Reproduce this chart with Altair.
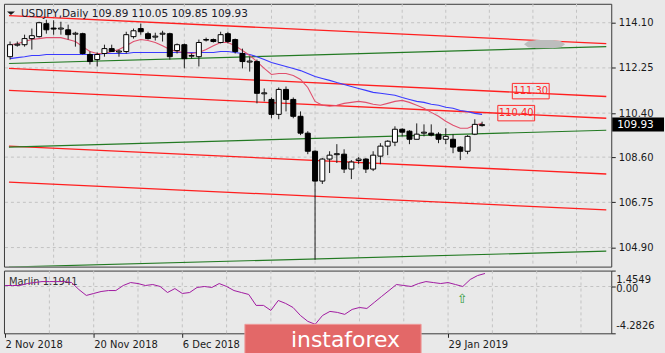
import altair as alt
import pandas as pd

FONT = "DejaVu Sans"

# ---------------- data ----------------
bar_idx = list(range(66))
opens = [112.71, 113.18, 113.20, 113.45, 113.53, 114.06, 113.88, 113.84, 113.81, 113.63,
         113.65, 112.80, 112.59, 112.84, 113.04, 112.90, 112.92, 113.53, 113.86, 113.65,
         113.51, 113.63, 113.65, 112.96, 113.20, 112.73, 112.71, 113.41, 113.41, 113.29,
         113.65, 113.41, 112.84, 112.49, 112.51, 111.19, 110.96, 110.35, 111.37, 110.96,
         110.27, 109.58, 108.84, 107.62, 108.52, 108.70, 108.72, 108.11, 108.46, 108.52,
         108.11, 108.64, 109.05, 109.21, 109.74, 109.66, 109.33, 109.58, 109.58, 109.54,
         109.33, 109.33, 109.01, 108.84, 109.54, 109.89]
highs = [113.33, 113.33, 113.61, 113.86, 114.14, 114.22, 114.20, 114.14, 114.02, 113.73,
         113.69, 112.92, 112.88, 113.20, 113.20, 113.00, 113.73, 113.86, 114.06, 113.73,
         113.69, 113.77, 113.69, 113.25, 113.25, 112.84, 113.41, 113.49, 113.45, 113.73,
         113.73, 113.45, 113.04, 112.71, 112.59, 111.41, 111.04, 111.45, 111.49, 111.04,
         110.47, 109.66, 108.88, 108.56, 108.84, 109.13, 108.92, 108.48, 108.60, 108.56,
         108.84, 109.17, 109.29, 109.86, 109.78, 109.70, 109.98, 109.94, 109.94, 109.62,
         109.78, 109.54, 109.05, 109.50, 110.15, 110.05]
lows = [112.59, 113.12, 113.12, 113.00, 113.49, 113.65, 113.61, 113.61, 113.41, 113.12,
        112.80, 112.39, 112.31, 112.71, 112.92, 112.71, 112.84, 113.45, 113.61, 113.41,
        113.37, 113.33, 112.59, 112.84, 112.23, 112.63, 112.31, 113.33, 113.29, 113.25,
        113.25, 112.84, 112.23, 112.10, 110.80, 110.88, 110.19, 110.15, 110.47, 110.19,
        109.50, 108.72, 104.40, 107.50, 107.95, 108.36, 107.95, 107.70, 108.31, 107.95,
        108.03, 108.31, 108.68, 109.05, 109.45, 109.13, 109.33, 109.45, 109.45, 109.17,
        109.13, 108.76, 108.48, 108.72, 109.50, 109.85]
closes = [113.20, 113.22, 113.45, 113.57, 114.10, 113.81, 113.84, 113.88, 113.61, 113.67,
          112.84, 112.51, 112.80, 113.04, 112.92, 112.94, 113.61, 113.77, 113.73, 113.45,
          113.55, 113.67, 112.71, 113.20, 112.63, 112.76, 113.29, 113.39, 113.33, 113.61,
          113.33, 112.92, 112.51, 112.53, 111.21, 111.23, 110.35, 111.37, 110.96, 110.27,
          109.58, 108.84, 107.62, 108.52, 108.68, 108.74, 108.11, 108.40, 108.52, 108.11,
          108.68, 109.05, 109.25, 109.74, 109.62, 109.33, 109.54, 109.62, 109.50, 109.33,
          109.45, 109.01, 108.84, 109.45, 109.94, 109.93]
fast_ma = [113.20, 113.24, 113.33, 113.41, 113.45, 113.49, 113.49, 113.49, 113.41, 113.33,
           113.12, 112.92, 112.84, 112.84, 112.92, 113.00, 113.16, 113.33, 113.41, 113.37,
           113.29, 113.16, 113.00, 112.92, 112.88, 112.84, 112.88, 113.00, 113.16, 113.29,
           113.29, 113.16, 112.96, 112.76, 112.51, 112.23, 111.98, 112.02, 112.02, 111.94,
           111.78, 111.45, 110.88, 110.72, 110.68, 110.72, 110.80, 110.84, 110.88, 110.84,
           110.76, 110.72, 110.80, 110.88, 110.92, 110.84, 110.72, 110.60, 110.43, 110.27,
           110.07, 109.90, 109.78, 109.78, 109.90, 109.98]
slow_ma = [112.63, 112.67, 112.71, 112.76, 112.76, 112.80, 112.80, 112.80, 112.80, 112.80,
           112.80, 112.80, 112.80, 112.84, 112.84, 112.84, 112.84, 112.88, 112.88, 112.88,
           112.88, 112.88, 112.88, 112.88, 112.88, 112.88, 112.88, 112.88, 112.88, 112.92,
           112.92, 112.88, 112.84, 112.80, 112.71, 112.59, 112.47, 112.39, 112.31, 112.23,
           112.14, 112.02, 111.90, 111.82, 111.74, 111.65, 111.57, 111.49, 111.41, 111.33,
           111.25, 111.21, 111.17, 111.13, 111.04, 110.96, 110.88, 110.84, 110.76, 110.72,
           110.64, 110.60, 110.51, 110.47, 110.39, 110.35]
marlin = [0.09, 0.09, 0.09, 0.27, 0.36, 0.45, 0.45, 0.45, 0.45, 0.36,
          -0.28, -0.82, -0.64, -0.46, -0.37, -0.37, 0.09, 0.36, 0.27, 0.09,
          0.18, 0.00, -0.55, -0.19, -0.64, -0.55, -0.09, 0.00, -0.09, 0.27,
          0.00, -0.37, -0.55, -0.73, -1.73, -1.73, -2.19, -1.28, -1.55, -1.92,
          -2.65, -3.19, -3.46, -2.65, -2.28, -2.37, -2.55, -2.10, -1.92, -2.01,
          -1.46, -0.91, -0.37, 0.18, 0.09, 0.00, 0.27, 0.45, 0.36, 0.27,
          0.36, 0.18, 0.00, 0.64, 1.00, 1.19]

# channel lines: price at left edge and right edge of the chart
line_x = [-0.15, 82.1]
red_names = ["R1", "R2", "R3", "R4", "R5"]
red_start = [114.39, 112.23, 111.33, 109.05, 107.58]
red_end = [113.24, 111.08, 110.19, 107.91, 106.44]
green_names = ["G1", "G2", "G3"]
green_start = [112.43, 109.01, 104.10]
green_end = [113.12, 109.70, 104.75]

price_ticks = [114.10, 112.25, 110.40, 108.60, 106.75, 104.90]
grid_idx = [6, 12, 18, 24, 30, 36, 42, 48, 54, 60, 66, 72, 78]
# date labels visible in the reference (the ones under the logo are hidden there)
date_idx = [0, 12, 24, 60]
date_txt = ["2 Nov 2018", "20 Nov 2018", "6 Dec 2018", "29 Jan 2019"]
sub_ticks = [1.4549, 0.0, -4.2826]
sub_tick_txt = ["1.4549", "0.00", "-4.2826"]

title_txt = "USDJPY,Daily  109.89 110.05 109.85 109.93"
marlin_txt = "Marlin 1.1941"
level_idx = [71.7, 69.7]
level_price = [111.30, 110.40]
level_txt = ["111.30", "110.40"]
last_price = 109.93
smudge_idx = [73.6]
smudge_price = [113.22]
arrow_idx = [61.9]
arrow_val = [-1.19]

# ---------------- tables ----------------
candles = pd.DataFrame({"i": bar_idx, "o": opens, "h": highs, "l": lows, "c": closes})
candles["dir"] = ["up" if c >= o else "down" for o, c in zip(opens, closes)]
ma = pd.DataFrame({"i": bar_idx, "fast": fast_ma, "slow": slow_ma, "marlin": marlin})

red_rows = []
for n, s, e in zip(red_names, red_start, red_end):
    red_rows += [{"name": n, "x": line_x[0], "p": s}, {"name": n, "x": line_x[1], "p": e}]
green_rows = []
for n, s, e in zip(green_names, green_start, green_end):
    green_rows += [{"name": n, "x": line_x[0], "p": s}, {"name": n, "x": line_x[1], "p": e}]
red_df = pd.DataFrame(red_rows)
green_df = pd.DataFrame(green_rows)

xs = alt.Scale(domain=[-0.15, 82.1], nice=False, zero=False)
ys = alt.Scale(domain=[104.12, 114.874], nice=False, zero=False)
ss = alt.Scale(domain=[-4.2826, 1.4549], nice=False, zero=False)

W = 610
H_MAIN = 264
H_SUB = 63
GRID = "#c3c3c3"
LBL = "#1a1a1a"

main_y_axis = alt.Axis(
    orient="right", values=price_ticks, format=".2f", title=None, grid=False,
    tickSize=4, tickColor="#222222", domain=False, labelFont=FONT, labelFontSize=10,
    labelColor=LBL, labelPadding=3, labelOverlap=False)
label_expr = " : ".join(f"datum.value == {i} ? '{t}'" for i, t in zip(date_idx, date_txt)) + " : ''"
sub_x_axis = alt.Axis(
    orient="bottom", values=date_idx, labelExpr=label_expr, labelAlign="left", labelFlush=False,
    labelOverlap=False, tickSize=4, tickColor="#222222", labelPadding=2, grid=False, domain=False,
    title=None, labelFont=FONT, labelFontSize=10, labelColor=LBL)
sub_y_axis = alt.Axis(orient="right", values=sub_ticks, labels=False, title=None,
                      grid=False, tickSize=4, tickColor="#222222", domain=False)

X = lambda f: alt.X(f, scale=xs, axis=None)
Y = lambda f: alt.Y(f, scale=ys, axis=main_y_axis)
XS = lambda f: alt.X(f, scale=xs, axis=sub_x_axis)
YS = lambda f: alt.Y(f, scale=ss, axis=sub_y_axis)

# ---------------- main panel ----------------
hgrid = alt.Chart(pd.DataFrame({"p": price_ticks})).mark_rule(
    color=GRID, strokeDash=[3, 3], strokeWidth=1).encode(y=Y("p:Q"))

vgrid = alt.Chart(pd.DataFrame({"g": grid_idx})).mark_rule(
    color=GRID, strokeDash=[3, 3], strokeWidth=1).encode(x=X("g:Q"))

red_lines = alt.Chart(red_df).mark_line(clip=True, color="#ff1f1f", strokeWidth=1.3).encode(
    x=X("x:Q"), y=Y("p:Q"), detail="name:N")
green_lines = alt.Chart(green_df).mark_line(clip=True, color="#237a23", strokeWidth=1.2).encode(
    x=X("x:Q"), y=Y("p:Q"), detail="name:N")

slow_line = alt.Chart(ma).mark_line(color="#3a3aff", strokeWidth=1.1).encode(x=X("i:Q"), y=Y("slow:Q"))
fast_line = alt.Chart(ma).mark_line(color="#e0506e", strokeWidth=1.1).encode(x=X("i:Q"), y=Y("fast:Q"))

wicks = alt.Chart(candles).mark_rule(color="#1e1e1e", strokeWidth=1).encode(
    x=X("i:Q"), y=Y("l:Q"), y2="h:Q")
bodies = alt.Chart(candles).mark_bar(width=5, stroke="#000000", strokeWidth=1).encode(
    x=X("i:Q"), y=Y("o:Q"), y2="c:Q",
    fill=alt.Fill("dir:N", scale=alt.Scale(domain=["up", "down"], range=["#ffffff", "#000000"]), legend=None))

tri = alt.Chart(pd.DataFrame({"k": [1]})).mark_point(
    shape="M-1,-0.45L1,-0.45L0,0.45Z", size=64, filled=True, color="#1a1a1a", opacity=1).encode(
    x=alt.value(7), y=alt.value(9.5))
title = alt.Chart(pd.DataFrame({"t": [title_txt]})).mark_text(
    align="left", baseline="middle", font=FONT, fontSize=10.5, color="#1a1a2a").encode(
    x=alt.value(17), y=alt.value(10), text="t:N")

smudge = alt.Chart(pd.DataFrame({"i": smudge_idx, "p": smudge_price})).mark_point(
    shape="M-1,0L-0.8,-0.15L-0.4,-0.2L0.4,-0.2L0.8,-0.15L1,0L0.8,0.15L0.4,0.2L-0.4,0.2L-0.8,0.15Z",
    size=1700, filled=True, color="#bdbdbd", opacity=1).encode(x=X("i:Q"), y=Y("p:Q"))

lvl_df = pd.DataFrame({"i": level_idx, "p": level_price, "t": level_txt})
lvl_box = alt.Chart(lvl_df).mark_point(
    shape="M-1,-0.42L1,-0.42L1,0.42L-1,0.42Z", size=1369, filled=False,
    color="#ff2a2a", strokeWidth=1, opacity=1).encode(x=X("i:Q"), y=Y("p:Q"))
lvl_txt = alt.Chart(lvl_df).mark_text(font=FONT, fontSize=10, color="#ff2a2a").encode(
    x=X("i:Q"), y=Y("p:Q"), text="t:N")

last_df = pd.DataFrame({"p": [last_price], "t": [f"{last_price:.2f}"]})
last_box = alt.Chart(last_df).mark_point(
    shape="M-1,-0.27L1,-0.27L1,0.27L-1,0.27Z", size=2704, filled=True, color="#000000", opacity=1).encode(
    x=alt.value(637), y=Y("p:Q"))
last_txt = alt.Chart(last_df).mark_text(font=FONT, fontSize=10.5, color="#ffffff", align="left").encode(
    x=alt.value(616), y=Y("p:Q"), text="t:N")

main = alt.layer(hgrid, vgrid, red_lines, green_lines, slow_line, fast_line, wicks, bodies,
                 tri, title, smudge, lvl_box, lvl_txt, last_box, last_txt).properties(
    width=W, height=H_MAIN)

# ---------------- sub panel ----------------
svgrid = alt.Chart(pd.DataFrame({"g": grid_idx})).mark_rule(
    color=GRID, strokeDash=[3, 3], strokeWidth=1).encode(x=XS("g:Q"))
zero = alt.Chart(pd.DataFrame({"v": [0.0]})).mark_rule(
    color=GRID, strokeDash=[3, 3], strokeWidth=1).encode(y=YS("v:Q"))
mlabel = alt.Chart(pd.DataFrame({"t": [marlin_txt]})).mark_text(
    align="left", baseline="middle", font=FONT, fontSize=10, color="#333333").encode(
    x=alt.value(5), y=alt.value(11), text="t:N")
mline = alt.Chart(ma).mark_line(color="#a01aa0", strokeWidth=1).encode(
    x=XS("i:Q"), y=YS("marlin:Q"))

sub_lbl_layers = []
for v, t, dy in zip(sub_ticks, sub_tick_txt, [9, 3, -7]):
    sub_lbl_layers.append(
        alt.Chart(pd.DataFrame({"v": [v], "t": [t]})).mark_text(
            align="left", baseline="middle", dy=dy, font=FONT, fontSize=10, color=LBL).encode(
            x=alt.value(615), y=YS("v:Q"), text="t:N"))

arrow = alt.Chart(pd.DataFrame({"i": arrow_idx, "v": arrow_val, "t": ["⇧"]})).mark_text(
    font=FONT, fontSize=13, color="#2f9a3a").encode(
    x=XS("i:Q"), y=YS("v:Q"), text="t:N")

logo_box = alt.Chart(pd.DataFrame({"k": [1]})).mark_rect(
    color="#e36868", stroke="#ee9a9a", strokeWidth=1).encode(
    x=alt.value(242), x2=alt.value(419), y=alt.value(54), y2=alt.value(85))
logo_txt = alt.Chart(pd.DataFrame({"t": ["instaforex"]})).mark_text(
    font=FONT, fontSize=22, color="#ffffff", baseline="middle").encode(
    x=alt.value(343), y=alt.value(70), text="t:N")

sub = alt.layer(svgrid, zero, mlabel, mline, *sub_lbl_layers, arrow, logo_box, logo_txt).properties(
    width=W, height=H_SUB)

chart = alt.vconcat(main, sub, spacing=2).properties(
    padding={"left": 2, "top": 2, "right": 0, "bottom": 0},
    background="#e9e9e9",
).configure_view(stroke="#3a3a3a", strokeWidth=1, fill="#e9e9e9")

chart.save("out.html", embed_options={"renderer": "svg", "actions": False})
